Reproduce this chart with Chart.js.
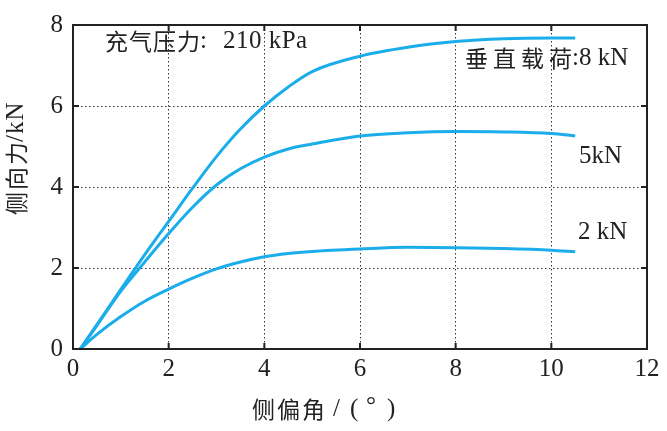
<!DOCTYPE html>
<html>
<head>
<meta charset="utf-8">
<script src="https://cdn.jsdelivr.net/npm/chart.js@4/dist/chart.umd.min.js"></script>
<style>
  html, body { margin: 0; padding: 0; background: #fff; }
  #wrap { width: 667px; height: 431px; position: relative; }
</style>
</head>
<body>
<div id="wrap"><canvas id="forceChart"></canvas></div>
<script>
// slip angle (deg) and lateral force (kN)
const angles = [0.15, 0.5, 1, 1.5, 2, 2.5, 3, 3.5, 4, 4.5, 5, 6, 7, 8, 9, 10, 10.5];
const force8kN = [0, 0.6, 1.47, 2.33, 3.15, 3.97, 4.75, 5.43, 6.0, 6.47, 6.85, 7.23, 7.45, 7.59, 7.66, 7.68, 7.68];
const force5kN = [0, 0.58, 1.43, 2.15, 2.85, 3.5, 4.05, 4.45, 4.74, 4.94, 5.06, 5.26, 5.34, 5.37, 5.36, 5.32, 5.26];
const force2kN = [0, 0.36, 0.8, 1.18, 1.48, 1.75, 1.98, 2.15, 2.28, 2.36, 2.41, 2.47, 2.51, 2.5, 2.48, 2.44, 2.4];
const xTicks = [0, 2, 4, 6, 8, 10, 12];
const yTicks = [0, 2, 4, 6, 8];

const lineColor = "#1badea";
const latin = "'Liberation Serif', serif";
const cjk = "'Noto Sans CJK SC', sans-serif";
const latinFont = "25px " + latin;
const cjkFont = "23px " + cjk;

function toPoints(ys) {
    return angles.map((a, i) => ({ x: a, y: ys[i] }));
}

function makeSet(label, ys) {
    return {
        label: label,
        data: toPoints(ys),
        borderColor: lineColor,
        borderWidth: 3,
        pointRadius: 0,
        fill: false,
        cubicInterpolationMode: "monotone"
    };
}

// draws a run of text pieces with their own fonts, left to right
function drawRun(ctx, parts, x, y) {
    parts.forEach(p => {
        const sp = p.sp || 0;
        ctx.font = p.font;
        ctx.letterSpacing = sp + "px";
        ctx.fillText(p.text, x, y);
        x += ctx.measureText(p.text).width - sp + (p.gap || 0);
    });
    ctx.letterSpacing = "0px";
    return x;
}

// frame, inward ticks, annotations and axis titles
const decorations = {
    id: "decorations",
    afterDraw(chart) {
        const ctx = chart.ctx;
        const area = chart.chartArea;
        const xs = chart.scales.x;
        const ys = chart.scales.y;
        ctx.save();
        ctx.strokeStyle = "#222";
        ctx.lineWidth = 2;
        ctx.strokeRect(area.left, area.top, area.right - area.left, area.bottom - area.top);

        ctx.beginPath();
        xTicks.slice(1, -1).forEach(v => {
            const px = xs.getPixelForValue(v);
            ctx.moveTo(px, area.bottom);
            ctx.lineTo(px, area.bottom - 6);
            ctx.moveTo(px, area.top);
            ctx.lineTo(px, area.top + 6);
        });
        yTicks.slice(1, -1).forEach(v => {
            const py = ys.getPixelForValue(v);
            ctx.moveTo(area.left, py);
            ctx.lineTo(area.left + 6, py);
            ctx.moveTo(area.right, py);
            ctx.lineTo(area.right - 6, py);
        });
        ctx.stroke();

        ctx.fillStyle = "#222";
        ctx.textBaseline = "middle";
        ctx.textAlign = "left";
        drawRun(ctx, [
            { text: "充气压力", font: cjkFont, sp: 1 },
            { text: ":", font: latinFont, gap: 16 },
            { text: "210 kPa", font: latinFont, sp: 0.5 }
        ], 105, 41);
        drawRun(ctx, [
            { text: "垂直载荷", font: cjkFont, sp: 5 },
            { text: ":8 kN", font: latinFont }
        ], 465, 58);
        drawRun(ctx, [{ text: "5kN", font: latinFont }], 579, 156);
        drawRun(ctx, [{ text: "2 kN", font: latinFont }], 578, 232);

        // x title
        drawRun(ctx, [{ text: "侧偏角", font: cjkFont, sp: 2 }], 252, 409);
        ctx.font = latinFont;
        ctx.fillText("/", 333, 409);
        ctx.fillText("(", 350, 409);
        ctx.fillText("°", 366, 406);
        ctx.fillText(")", 387, 409);

        // y title
        ctx.translate(16, 215);
        ctx.rotate(-Math.PI / 2);
        drawRun(ctx, [
            { text: "侧向力", font: cjkFont, sp: 2 },
            { text: "/kN", font: latinFont, sp: 1 }
        ], 0, 0);
        ctx.restore();
    }
};

const ctx = document.getElementById("forceChart").getContext("2d");

new Chart(ctx, {
    type: "line",
    data: {
        datasets: [
            makeSet("8 kN", force8kN),
            makeSet("5 kN", force5kN),
            makeSet("2 kN", force2kN)
        ]
    },
    options: {
        responsive: true,
        maintainAspectRatio: false,
        animation: false,
        layout: {
            padding: { top: 16, right: 20, left: 0, bottom: 0 }
        },
        scales: {
            x: {
                type: "linear",
                min: 0,
                max: 12,
                afterFit(scale) { scale.height = 82; },
                afterBuildTicks(scale) { scale.ticks = xTicks.map(v => ({ value: v })); },
                ticks: {
                    color: "#222",
                    padding: 5,
                    font: { family: latin, size: 25 }
                },
                grid: {
                    color: "#333",
                    lineWidth: 1,
                    drawTicks: false
                },
                border: { display: false, dash: [1.5, 2.5] }
            },
            y: {
                min: 0,
                max: 8,
                afterFit(scale) { scale.width = 73; },
                afterBuildTicks(scale) { scale.ticks = yTicks.map(v => ({ value: v })); },
                ticks: {
                    color: "#222",
                    padding: 10,
                    font: { family: latin, size: 25 }
                },
                grid: {
                    color: "#333",
                    lineWidth: 1,
                    drawTicks: false
                },
                border: { display: false, dash: [1.5, 2.5] }
            }
        },
        plugins: {
            legend: { display: false },
            tooltip: { enabled: false }
        }
    },
    plugins: [decorations]
});
</script>
</body>
</html>
